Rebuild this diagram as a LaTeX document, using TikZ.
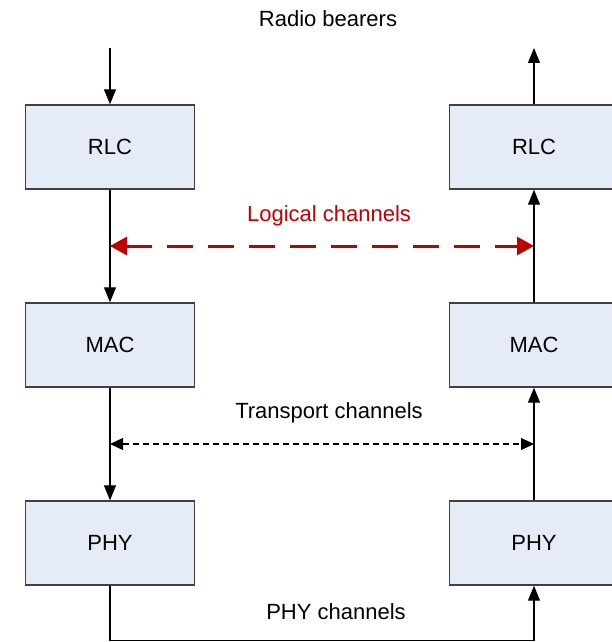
\documentclass[tikz,border=0pt]{standalone}
\usepackage{fontspec}
\setmainfont{Liberation Sans}
\usetikzlibrary{arrows.meta}
\definecolor{boxfill}{HTML}{E6ECF7}
\definecolor{boxline}{HTML}{404040}
\definecolor{chred}{HTML}{C00000}
\begin{document}
\begin{tikzpicture}[x=1pt,y=-1pt,
  layer/.style={draw=boxline,line width=1.4pt,fill=boxfill,minimum width=169pt,minimum height=84pt,inner sep=0pt,font=\fontsize{22}{26}\selectfont},
  lbl/.style={font=\fontsize{22}{26}\selectfont,inner sep=0pt},
  flow/.style={line width=1.2pt,-{Triangle[length=15pt,width=12pt]}},
  redch/.style={chred,line width=3pt,dash pattern=on 26pt off 15pt,{Triangle[length=17pt,width=18pt]}-{Triangle[length=17pt,width=18pt]}},
  blkch/.style={line width=1.2pt,dash pattern=on 6pt off 4pt,{Triangle[length=13pt,width=12pt]}-{Triangle[length=13pt,width=12pt]}}]
\useasboundingbox (0,0) rectangle (612,642);
\node[layer] (rlcL) at (110,147) {RLC};
\node[layer] (macL) at (110,345) {MAC};
\node[layer] (phyL) at (110,543) {PHY};
\node[layer] (rlcR) at (534,147) {RLC};
\node[layer] (macR) at (534,345) {MAC};
\node[layer] (phyR) at (534,543) {PHY};
\node[lbl] (rb) at (328,19) {Radio bearers};
\node[lbl,text=chred] (lc) at (329,216) {Logical channels};
\node[lbl] (tc) at (329,413) {Transport channels};
\node[lbl] (pc) at (336,612) {PHY channels};
\coordinate (inL) at (110,48);
\coordinate (outR) at (534,48);
\coordinate (lcL) at (110,246);
\coordinate (lcR) at (534,246);
\coordinate (tcL) at (110,444);
\coordinate (tcR) at (534,444);
\coordinate (bL) at (110,640.5);
\coordinate (bR) at (534,640.5);
\draw[flow] (inL) -- (rlcL.north);
\draw[flow] (rlcL.south) -- (macL.north);
\draw[flow] (macL.south) -- (phyL.north);
\draw[flow] (phyL.south) -- (bL) -- (bR) -- (phyR.south);
\draw[flow] (phyR.north) -- (macR.south);
\draw[flow] (macR.north) -- (rlcR.south);
\draw[flow] (rlcR.north) -- (outR);
\draw[redch] (lcL) -- (lcR);
\draw[blkch] (tcL) -- (tcR);
\end{tikzpicture}
\end{document}
